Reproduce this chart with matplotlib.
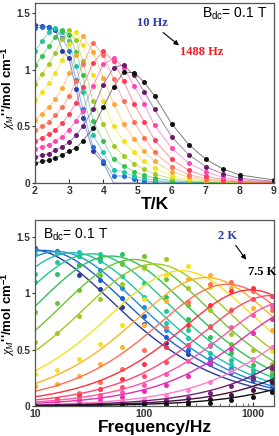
import numpy as np
import matplotlib.pyplot as plt

plt.rcParams['font.family'] = ['Liberation Sans', 'DejaVu Sans']
plt.rcParams['mathtext.fontset'] = 'custom'
plt.rcParams['mathtext.rm'] = 'Liberation Sans'
plt.rcParams['mathtext.it'] = 'Liberation Serif:italic'
plt.rcParams['mathtext.bf'] = 'Liberation Sans:bold'

# temperatures (K) and ac frequencies (Hz)
temps = [2.0, 2.2, 2.4, 2.6, 2.8, 3.0, 3.2, 3.4, 3.7, 4.0, 4.3, 4.6, 4.9, 5.2, 5.5, 6.0, 6.5, 7.0, 7.5, 8.0, 9.0]
freqs = [10, 15.85, 25.12, 39.81, 63.1, 100, 158.5, 251.2, 398.1, 631, 1000, 1488]

# chi'' (cm3/mol) at each frequency, one value per temperature
chi_10 = [1.40, 1.39, 1.38, 1.35, 1.17, 1.10, 0.83, 0.57, 0.28, 0.18, 0.0, 0.0, 0.0, 0.0, 0.0, 0.0, 0.0, 0.0, 0.0, 0.0, 0.0]
chi_16 = [1.37, 1.375, 1.37, 1.36, 1.28, 1.17, 0.91, 0.65, 0.32, 0.198, 0.062, 0.062, 0.035, 0.02, 0.012, 0.006, 0.003, 0.002, 0.001, 0.001, 0.0]
chi_25 = [1.165, 1.25, 1.33, 1.37, 1.33, 1.25, 1.03, 0.80, 0.42, 0.27, 0.115, 0.10, 0.06, 0.04, 0.025, 0.012, 0.006, 0.003, 0.002, 0.001, 0.0]
chi_40 = [1.04, 1.12, 1.21, 1.29, 1.35, 1.31, 1.16, 0.95, 0.55, 0.37, 0.21, 0.15, 0.10, 0.07, 0.045, 0.022, 0.011, 0.006, 0.003, 0.002, 0.001]
chi_63 = [0.876, 0.96, 1.05, 1.15, 1.27, 1.35, 1.26, 1.08, 0.72, 0.52, 0.33, 0.24, 0.17, 0.12, 0.08, 0.04, 0.02, 0.01, 0.005, 0.003, 0.001]
chi_100 = [0.73, 0.80, 0.88, 0.97, 1.09, 1.23, 1.33, 1.22, 0.95, 0.72, 0.50, 0.37, 0.27, 0.19, 0.13, 0.065, 0.032, 0.017, 0.009, 0.005, 0.002]
chi_158 = [0.56, 0.61, 0.67, 0.74, 0.84, 0.97, 1.13, 1.30, 1.16, 0.93, 0.70, 0.52, 0.39, 0.28, 0.19, 0.10, 0.05, 0.026, 0.014, 0.007, 0.002]
chi_251 = [0.465, 0.50, 0.54, 0.60, 0.67, 0.77, 0.90, 1.05, 1.24, 1.13, 0.92, 0.72, 0.54, 0.40, 0.27, 0.145, 0.074, 0.038, 0.02, 0.01, 0.003]
chi_398 = [0.37, 0.40, 0.43, 0.47, 0.53, 0.61, 0.71, 0.85, 1.06, 1.165, 1.08, 0.90, 0.70, 0.54, 0.38, 0.21, 0.112, 0.06, 0.03, 0.015, 0.005]
chi_631 = [0.30, 0.32, 0.34, 0.37, 0.41, 0.47, 0.55, 0.64, 0.86, 1.05, 1.10, 1.02, 0.855, 0.70, 0.51, 0.31, 0.175, 0.10, 0.05, 0.027, 0.01]
chi_1000 = [0.23, 0.245, 0.26, 0.29, 0.32, 0.36, 0.42, 0.50, 0.65, 0.87, 1.02, 1.045, 0.95, 0.805, 0.65, 0.41, 0.25, 0.145, 0.08, 0.041, 0.015]
chi_1488 = [0.175, 0.19, 0.20, 0.22, 0.25, 0.28, 0.31, 0.37, 0.485, 0.67, 0.85, 0.98, 0.975, 0.89, 0.77, 0.525, 0.34, 0.21, 0.124, 0.071, 0.027]

chi_rows = [chi_10, chi_16, chi_25, chi_40, chi_63, chi_100, chi_158, chi_251,
            chi_398, chi_631, chi_1000, chi_1488]
freq_colors = ['#2d3a9e', '#1f6fd6', '#1fc3a8', '#34c24c', '#a4c822', '#f2e21e',
               '#ffa733', '#ff6f55', '#ff3a5a', '#ff45b4', '#6a1b6a', '#111111']

# generalized Debye fit parameters for the 2 K ... 7.5 K curves
fit_temps = temps[:19]
fit_peak_hz = [9, 12, 16, 22, 33, 50, 80, 125, 220, 370, 580, 950, 1450, 2100, 3000, 6000, 9500, 15000, 25000]
fit_peak_chi = [1.39, 1.38, 1.37, 1.36, 1.35, 1.33, 1.30, 1.26, 1.20, 1.14, 1.08, 1.03, 0.98, 0.93, 0.88, 0.81, 0.75, 0.70, 0.65]
fit_alpha = [0.33, 0.33, 0.32, 0.31, 0.30, 0.29, 0.28, 0.27, 0.26, 0.25, 0.24, 0.23, 0.22, 0.21, 0.20, 0.19, 0.18, 0.17, 0.16]
temp_colors = ['#2d3a9e', '#1f5fd0', '#1e8fd8', '#1fc3b0', '#20c890', '#30c058', '#6cc432',
               '#a4c822', '#f2e21e', '#ffb327', '#ff6f55', '#ff3040', '#ff4a70', '#ff55a8',
               '#e52fb0', '#ff7fc6', '#7a1f7a', '#46103f', '#111111']


def debye_chi2(f, fp, peak, alpha):
    u = (np.asarray(f) / fp) ** (1 - alpha)
    s = np.sin(alpha * np.pi / 2)
    return peak * u * (2 + 2 * s) / (1 + 2 * u * s + u * u)


fig = plt.figure(figsize=(2.79, 4.36), dpi=100)
ax1 = fig.add_axes([35 / 279, 1 - 183 / 436, 239 / 279, 180 / 436])
ax2 = fig.add_axes([35 / 279, 1 - 406 / 436, 239 / 279, 186 / 436])

ylab = r'$\chi_M$' + "''/mol cm" + r'$^{\mathbf{-1}}$'

# --- top: chi'' vs T
for row, c in zip(chi_rows, freq_colors):
    t_arr = np.array(temps)
    v_arr = np.array(row)
    ax1.plot(t_arr, v_arr, '-', color=c, lw=0.7, alpha=0.55)
    ax1.plot(t_arr[v_arr > 0], v_arr[v_arr > 0], 'o', color=c, ms=3.6, mec='none')
ax1.set_xlim(2, 9)
ax1.set_ylim(0, 1.59)
ax1.set_xticks(range(2, 10))
ax1.set_yticks([0, 0.5, 1, 1.5])
ax1.set_yticklabels(['0', '0.5', '1', '1.5'])
ax1.set_xlabel('T/K', fontsize=12.5, fontweight='bold', labelpad=1)
ax1.text(0.972, 0.985, r'B$_{\rm dc}$= 0.1 T', transform=ax1.transAxes,
         ha='right', va='top', fontsize=10)
ax1.text(5.43, 1.41, '10 Hz', color='#2a3aa8', fontsize=9, fontweight='bold',
         family='Liberation Serif', ha='center', va='center')
ax1.text(6.89, 1.16, '1488 Hz', color='#ee1c24', fontsize=9, fontweight='bold',
         family='Liberation Serif', ha='center', va='center')
ax1.annotate('', xy=(6.28, 1.20), xytext=(5.69, 1.345),
             arrowprops=dict(arrowstyle='-|>', color='black', lw=0.8, mutation_scale=7))

# --- bottom: chi'' vs frequency with fits
f_fine = np.logspace(1, np.log10(1550), 200)
for j, c in enumerate(temp_colors):
    col = [row[j] for row in chi_rows]
    ax2.plot(f_fine, debye_chi2(f_fine, fit_peak_hz[j], fit_peak_chi[j], fit_alpha[j]),
             '-', color=c, lw=1.0)
    ax2.plot(freqs, col, 'o', color=c, ms=3.6, mec='none')
ax2.set_xscale('log')
ax2.set_xlim(10, 1550)
ax2.set_ylim(0, 1.65)
ax2.set_xticks([10, 100, 1000])
ax2.set_xticklabels(['10', '100', '1000'])
ax2.set_yticks([0, 0.5, 1, 1.5])
ax2.set_yticklabels(['0', '0.5', '1', '1.5'])
ax2.set_xlabel('Frequency/Hz', fontsize=12.5, fontweight='bold', labelpad=1)
ax2.text(0.033, 0.965, r'B$_{\rm dc}$= 0.1 T', transform=ax2.transAxes,
         ha='left', va='top', fontsize=10)
ax2.text(586, 1.51, '2 K', color='#2a3aa8', fontsize=9, fontweight='bold',
         family='Liberation Serif', ha='center', va='center')
ax2.text(1204, 1.19, '7.5 K', color='black', fontsize=9, fontweight='bold',
         family='Liberation Serif', ha='center', va='center')
ax2.annotate('', xy=(891, 1.277), xytext=(668, 1.445),
             arrowprops=dict(arrowstyle='-|>', color='black', lw=0.8, mutation_scale=7))

# y labels placed in figure pixels so they sit just inside the left edge
fig.text(8 / 279, 1 - 88 / 436, ylab, rotation=90, fontsize=9.5, fontweight='bold',
         ha='center', va='center')
fig.text(8 / 279, 1 - 314 / 436, ylab, rotation=90, fontsize=9.5, fontweight='bold',
         ha='center', va='center')

for ax in (ax1, ax2):
    for sp in ax.spines.values():
        sp.set_color('#555555')
        sp.set_linewidth(0.9)
    ax.tick_params(axis='y', direction='out', length=2.5, width=0.8, labelsize=7.2,
                   colors='#333333', pad=1)
    ax.tick_params(axis='x', direction='in', length=3, width=0.8, labelsize=7.5,
                   colors='#333333', pad=2)
    ax.tick_params(which='minor', direction='in', length=2, width=0.6, colors='#555555')
    for lab in ax.get_xticklabels() + ax.get_yticklabels():
        lab.set_fontweight('bold')

fig.savefig('out.png', dpi=100)
